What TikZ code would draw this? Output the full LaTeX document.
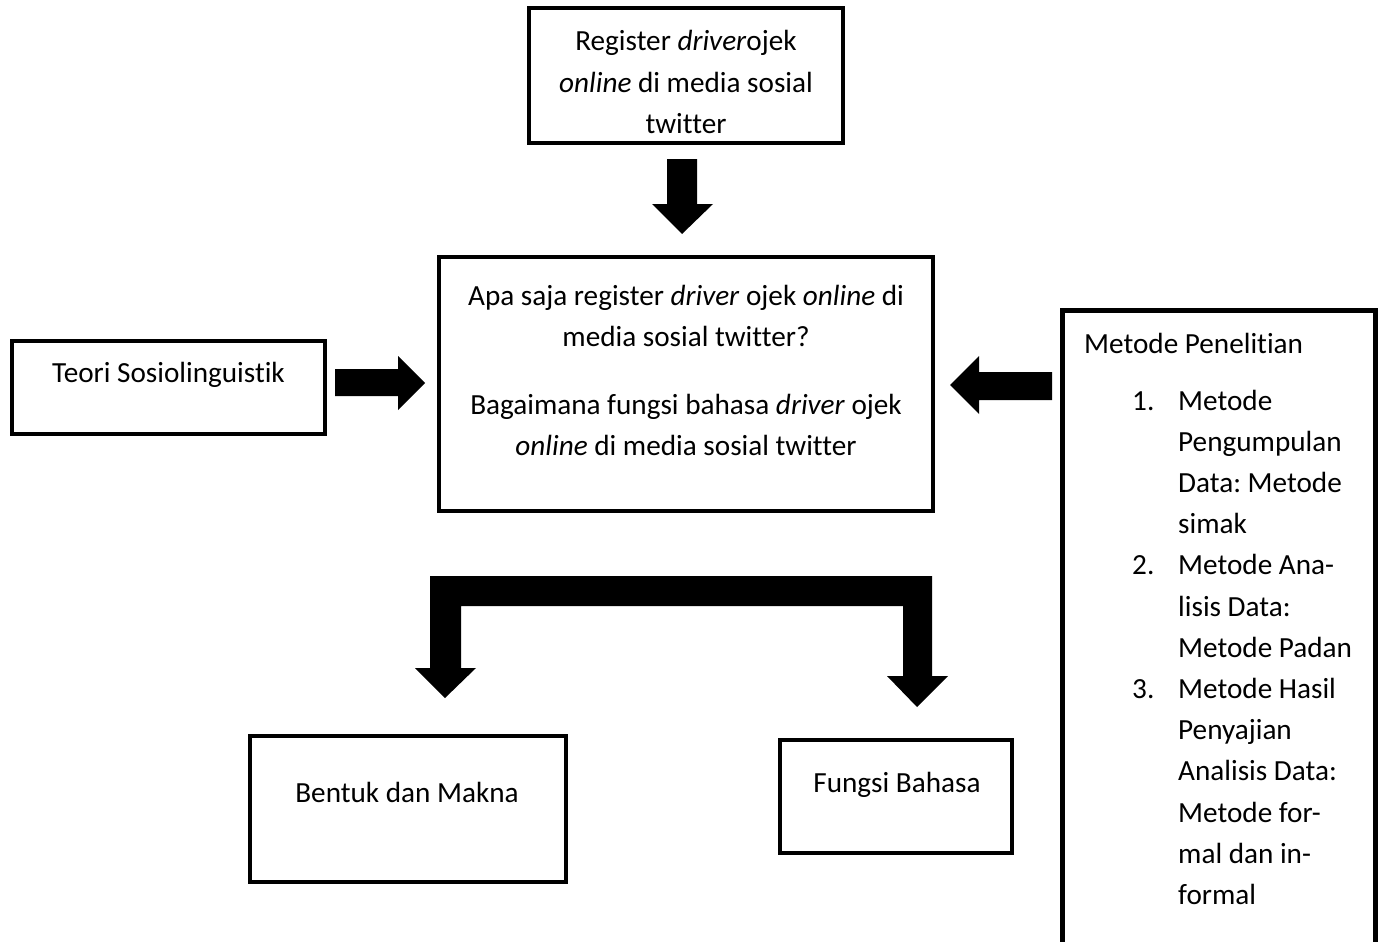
\documentclass[tikz,border=0pt]{standalone}
\usepackage{fontspec}
\setmainfont{Carlito}[Ligatures={NoCommon}]
\begin{document}
\frenchspacing
\begin{tikzpicture}[x=1pt,y=-1pt,
  box/.style={draw=black,line width=4.5pt,fill=white,inner sep=0pt},
  blockarrow/.style={fill=black,draw=none},
  txt/.style={inner sep=0pt,anchor=base,font=\fontsize{29.2}{41.2}\selectfont\frenchspacing}]
\useasboundingbox (0,0) rectangle (1382,942);
\clip (0,0) rectangle (1382,942);
% boxes
\draw[box] (529,8) rectangle (843,143);
\draw[box] (439,257) rectangle (933,511);
\draw[box] (12,341) rectangle (325,434);
\draw[box] (250,736) rectangle (566,882);
\draw[box] (780,740) rectangle (1012,853);
\draw[box] (1062.5,960) -- (1062.5,310.5) -- (1375.5,310.5) -- (1375.5,960);
% texts
\node[txt] (ttop) at (686,51) {\begin{tabular}[t]{@{}c@{}}Register \textit{driver}ojek\\ \textit{online} di media sosial\\ twitter\end{tabular}};
\node[txt] (tmid) at (686,305) {\begin{tabular}[t]{@{}c@{}}Apa saja register \textit{driver} ojek \textit{online} di\\ media sosial twitter?\\[27pt] Bagaimana fungsi bahasa \textit{driver} ojek\\ \textit{online} di media sosial twitter\end{tabular}};
\node[txt] (tteori) at (168.5,382) {Teori Sosiolinguistik};
\node[txt] (tbentuk) at (407,802) {Bentuk dan Makna};
\node[txt] (tfungsi) at (897,792) {Fungsi Bahasa};
\node[txt,anchor=base west] (tmetode) at (1084,353) {Metode Penelitian};
\node[txt,anchor=base west] (tlist) at (1132,410) {\begin{tabular}[t]{@{}l@{}}\makebox[46pt][l]{1.}Metode\\
\hspace*{46pt}Pengumpulan\\
\hspace*{46pt}Data: Metode\\
\hspace*{46pt}simak\\
\makebox[46pt][l]{2.}Metode Ana-\\
\hspace*{46pt}lisis Data:\\
\hspace*{46pt}Metode Padan\\
\makebox[46pt][l]{3.}Metode Hasil\\
\hspace*{46pt}Penyajian\\
\hspace*{46pt}Analisis Data:\\
\hspace*{46pt}Metode for-\\
\hspace*{46pt}mal dan in-\\
\hspace*{46pt}formal\end{tabular}};
% block arrows
\fill[blockarrow] (667,159) -- (697,159) -- (697,204) -- (713,204) -- (682,234) -- (652,204) -- (667,204) -- cycle;
\fill[blockarrow] (335,369) -- (398,369) -- (398,356) -- (425,383) -- (398,410) -- (398,396) -- (335,396) -- cycle;
\fill[blockarrow] (1052,372) -- (979,372) -- (979,356) -- (950,385) -- (979,414) -- (979,400) -- (1052,400) -- cycle;
\fill[blockarrow] (430,576) -- (932,576) -- (932,676) -- (948,676) -- (917,707) -- (887,676) -- (903,676) -- (903,606) -- (461,606) -- (461,668) -- (476,668) -- (445,698) -- (415,668) -- (430,668) -- cycle;
\end{tikzpicture}
\end{document}
